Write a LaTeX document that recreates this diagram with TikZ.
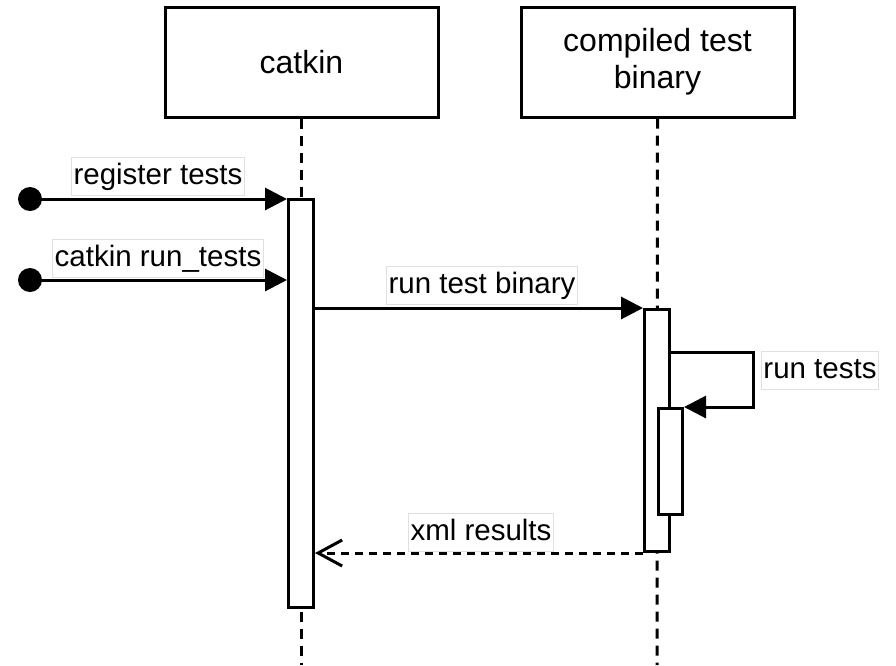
\documentclass[tikz,border=0pt]{standalone}
\usepackage{fontspec}
\setmainfont{Liberation Sans}
\usetikzlibrary{arrows.meta}
\begin{document}
\begin{tikzpicture}[x=1pt,y=-1pt,line width=3pt,
  head/.style={draw,fill=white,minimum width=273pt,minimum height=110pt,
    align=center,inner sep=0pt,font=\fontsize{32}{37}\selectfont},
  life/.style={dash pattern=on 10pt off 7pt},
  act/.style={draw,fill=white,inner sep=0pt},
  msglabel/.style={fill=white,draw=black!12,line width=0.8pt,inner xsep=2pt,
    inner ysep=4pt,text height=23pt,text depth=7pt,
    font=\fontsize{29.5}{34}\selectfont},
  call/.style={-{Triangle[length=22pt,width=22pt]}},
  reply/.style={dash pattern=on 8pt off 6pt,
    -{Straight Barb[length=24pt,width=26pt]}},
  startdot/.style={circle,fill=black,minimum size=24pt,inner sep=0pt}]

\useasboundingbox (0,0) rectangle (896,665);

% lifeline heads
\node[head] (catkin) at (301.5,62) {catkin};
\node[head] (binary) at (657.5,62) {compiled test\\binary};

% lifelines
\coordinate (endA) at (301.5,665);
\coordinate (endB) at (657,665);
\draw[life] (catkin.south) -- (endA);
\draw[life] (binary.south) -- (endB);

% activation bars
\node[act,minimum width=25pt,minimum height=408pt] (actA) at (301,403.5) {};
\node[act,minimum width=25pt,minimum height=242pt] (actB) at (657,430.5) {};
\node[act,minimum width=24pt,minimum height=106pt] (actC) at (670.5,461.5) {};

% found messages
\node[startdot] (d1) at (30,199) {};
\node[startdot] (d2) at (30,280) {};
\draw[call] (d1.center) -- (d1.center -| actA.west);
\draw[call] (d2.center) -- (d2.center -| actA.west);
\node[msglabel] (l1) at (158,176) {register tests};
\node[msglabel] (l2) at (158,258) {catkin run\_tests};

% call into the test binary
\draw[call] (actA.east |- actB.north) -- (actB.north west);
\node[msglabel] (l3) at (482,285) {run test binary};

% self call
\coordinate (loopR) at (753,352);
\draw[call] (actB.east |- loopR) -- (loopR) |- (actC.north east);
\node[msglabel] (l4) at (820,370) {run tests};

% return
\draw[reply] (actB.south west) -- (actB.south west -| actA.east);
\node[msglabel] (l5) at (481,532) {xml results};

\end{tikzpicture}
\end{document}
